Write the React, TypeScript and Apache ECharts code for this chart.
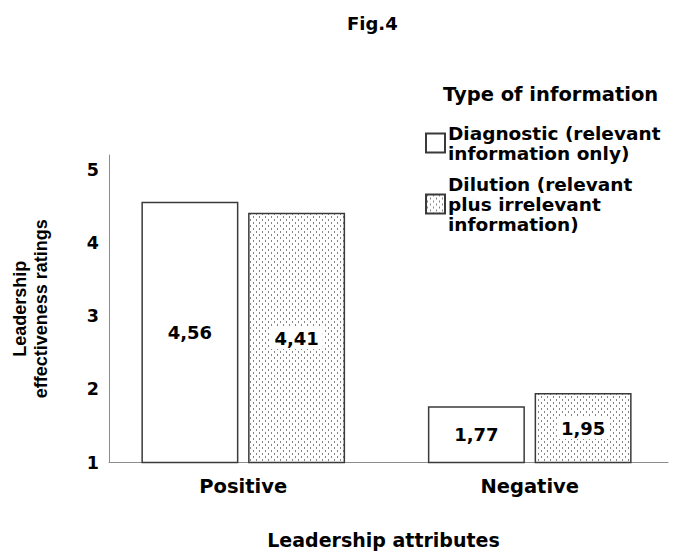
import React, { useEffect, useRef } from "react";
import * as echarts from "echarts";

const title = "Fig.4";
const categories = ["Positive", "Negative"];
const seriesNames = [
  "Diagnostic (relevant\ninformation only)",
  "Dilution (relevant\nplus irrelevant\ninformation)",
];
const diagnostic = [4.56, 1.77];
const dilution = [4.41, 1.95];
const yMin = 1;
const yMax = 5.2;
const yInterval = 1;
const xName = "Leadership attributes";
const yName = "Leadership\neffectiveness ratings";
const legendTitle = "Type of information";

const FONT = '"DejaVu Sans", "Liberation Sans", Arial, sans-serif';
const NARROW = '"Liberation Sans", Arial, sans-serif';

function makePattern(): HTMLCanvasElement {
  const c = document.createElement("canvas");
  c.width = 6;
  c.height = 6;
  const ctx = c.getContext("2d")!;
  ctx.fillStyle = "#ffffff";
  ctx.fillRect(0, 0, 6, 6);
  ctx.fillStyle = "#858585";
  ctx.fillRect(1, 0, 1, 2);
  ctx.fillRect(4, 3, 1, 2);
  return c;
}

export default function App() {
  const ref = useRef<HTMLDivElement>(null);
  useEffect(() => {
    if (!ref.current) return;
    const chart = echarts.init(ref.current, undefined, { renderer: "svg" });
    const pattern = { image: makePattern(), repeat: "repeat" };
    const labelFmt = (p: any) => Number(p.value).toFixed(2).replace(".", ",");
    const barLabel = {
      show: true,
      position: "inside",
      formatter: labelFmt,
      color: "#000",
      fontFamily: FONT,
      fontWeight: "bold",
      fontSize: 18,
      backgroundColor: "#fff",
      padding: [3, 4, 1, 4],
    };
    chart.setOption({
      animation: false,
      backgroundColor: "#fff",
      title: [
        {
          text: title,
          left: 347,
          top: 14,
          padding: 0,
          textStyle: { fontFamily: FONT, fontWeight: "bold", fontSize: 18, color: "#000" },
        },
        {
          text: legendTitle,
          left: 443,
          top: 84,
          padding: 0,
          textStyle: { fontFamily: FONT, fontWeight: "bold", fontSize: 19.5, color: "#000" },
        },
      ],
      legend: {
        orient: "vertical",
        left: 425,
        top: 123,
        padding: 0,
        itemWidth: 19,
        itemHeight: 19,
        itemGap: 11,
        icon: "rect",
        selectedMode: false,
        data: seriesNames,
        textStyle: {
          fontFamily: FONT,
          fontWeight: "bold",
          fontSize: 18.5,
          lineHeight: 20,
          color: "#000",
          padding: [0, 0, 0, -2],
        },
      },
      grid: [
        { left: 100, width: 578, top: 155, height: 307.5, containLabel: false },
        { left: 109, width: 559, top: 155, height: 307.5, containLabel: false },
      ],
      xAxis: [
        {
          type: "category",
          gridIndex: 0,
          data: categories,
          axisLine: { show: false },
          axisTick: { show: false },
          axisLabel: {
            margin: 14,
            color: "#000",
            fontFamily: FONT,
            fontWeight: "bold",
            fontSize: 19.5,
          },
        },
        {
          type: "category",
          gridIndex: 1,
          data: categories,
          axisLine: { show: true, lineStyle: { color: "#8c8c8c", width: 1 } },
          axisTick: { show: false },
          axisLabel: { show: false },
          name: xName,
          nameLocation: "middle",
          nameGap: 68,
          nameTextStyle: {
            fontFamily: FONT,
            fontWeight: "bold",
            fontSize: 19,
            color: "#000",
            padding: [0, 10, 0, 0],
          },
        },
      ],
      yAxis: [
        {
          type: "value",
          gridIndex: 0,
          min: yMin,
          max: yMax,
          interval: yInterval,
          show: false,
          splitLine: { show: false },
        },
        {
          type: "value",
          gridIndex: 1,
          min: yMin,
          max: yMax,
          interval: yInterval,
          axisLine: { show: true, lineStyle: { color: "#8c8c8c", width: 1 } },
          axisTick: { show: false },
          splitLine: { show: false },
          axisLabel: {
            margin: 10,
            color: "#000",
            fontFamily: FONT,
            fontWeight: "bold",
            fontSize: 17.5,
            padding: [8, 0, 0, 0],
            formatter: (v: number) => (Number.isInteger(v) ? String(v) : ""),
          },
          name: yName,
          nameLocation: "middle",
          nameRotate: 90,
          nameGap: 58,
          nameTextStyle: {
            fontFamily: NARROW,
            fontWeight: "bold",
            fontSize: 18,
            lineHeight: 21,
            color: "#000",
          },
        },
      ],
      series: [
        {
          name: seriesNames[0],
          type: "bar",
          xAxisIndex: 0,
          yAxisIndex: 0,
          data: diagnostic,
          barWidth: 97,
          barGap: "10%",
          itemStyle: { color: "#ffffff", borderColor: "#3a3a3a", borderWidth: 1.5 },
          label: barLabel,
        },
        {
          name: seriesNames[1],
          type: "bar",
          xAxisIndex: 0,
          yAxisIndex: 0,
          data: dilution,
          barWidth: 97,
          barGap: "10%",
          itemStyle: { color: pattern, borderColor: "#3a3a3a", borderWidth: 1.5 },
          label: barLabel,
        },
      ],
    });
    return () => chart.dispose();
  }, []);
  return (
    <div
      ref={ref}
      style={{ position: "fixed", left: 0, top: 0, width: 673, height: 558, background: "#fff" }}
    />
  );
}
